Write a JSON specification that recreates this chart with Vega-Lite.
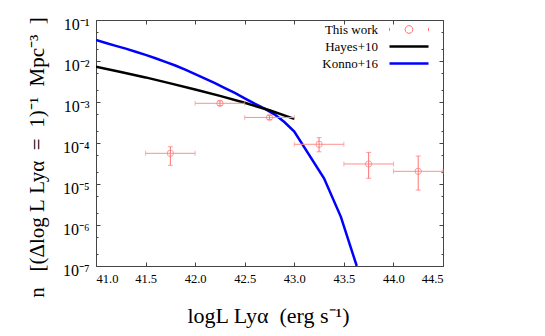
{
  "$schema": "https://vega.github.io/schema/vega-lite/v6.json",
  "width": 347,
  "height": 246,
  "autosize": "none",
  "padding": {"left": 96, "top": 20, "right": 102, "bottom": 70},
  "background": "white",
  "config": {
    "font": "Liberation Serif",
    "view": {"stroke": "#444", "strokeWidth": 1},
    "axis": {"grid": false, "labelColor": "#000", "titleColor": "#000", "tickColor": "#444", "titleFontWeight": "normal", "labelFont": "Liberation Serif", "titleFont": "Liberation Serif"}
  },
  "datasets": {
    "obs": [
      {"series": "This work", "x": 41.75, "xlo": 41.5, "xhi": 42.0, "y": 5.6e-5, "ylo": 2.86e-5, "yhi": 8.1e-5},
      {"series": "This work", "x": 42.25, "xlo": 42.0, "xhi": 42.5, "y": 9.3e-4, "ylo": 8.2e-4, "yhi": 1.06e-3},
      {"series": "This work", "x": 42.75, "xlo": 42.5, "xhi": 43.0, "y": 4.2e-4, "ylo": 3.75e-4, "yhi": 4.7e-4},
      {"series": "This work", "x": 43.25, "xlo": 43.0, "xhi": 43.5, "y": 9.3e-5, "ylo": 6.1e-5, "yhi": 1.35e-4},
      {"series": "This work", "x": 43.75, "xlo": 43.5, "xhi": 44.0, "y": 3.08e-5, "ylo": 1.38e-5, "yhi": 5.9e-5},
      {"series": "This work", "x": 44.25, "xlo": 44.0, "xhi": 44.5, "y": 2.04e-5, "ylo": 7.1e-6, "yhi": 4.8e-5}
    ],
    "hayes": [
      {"series": "Hayes+10", "x": 41.0, "y": 7.24e-3},
      {"series": "Hayes+10", "x": 41.25, "y": 5.37e-3},
      {"series": "Hayes+10", "x": 41.5, "y": 3.98e-3},
      {"series": "Hayes+10", "x": 41.75, "y": 2.85e-3},
      {"series": "Hayes+10", "x": 42.0, "y": 2.02e-3},
      {"series": "Hayes+10", "x": 42.25, "y": 1.41e-3},
      {"series": "Hayes+10", "x": 42.5, "y": 9.55e-4},
      {"series": "Hayes+10", "x": 42.75, "y": 6.31e-4},
      {"series": "Hayes+10", "x": 43.0, "y": 3.89e-4}
    ],
    "konno": [
      {"series": "Konno+16", "x": 41.0, "y": 3.24e-2},
      {"series": "Konno+16", "x": 41.1, "y": 2.75e-2},
      {"series": "Konno+16", "x": 41.2, "y": 2.34e-2},
      {"series": "Konno+16", "x": 41.3, "y": 2.0e-2},
      {"series": "Konno+16", "x": 41.4, "y": 1.68e-2},
      {"series": "Konno+16", "x": 41.5, "y": 1.41e-2},
      {"series": "Konno+16", "x": 41.6, "y": 1.17e-2},
      {"series": "Konno+16", "x": 41.7, "y": 9.55e-3},
      {"series": "Konno+16", "x": 41.8, "y": 7.76e-3},
      {"series": "Konno+16", "x": 41.9, "y": 6.17e-3},
      {"series": "Konno+16", "x": 42.0, "y": 4.79e-3},
      {"series": "Konno+16", "x": 42.1, "y": 3.72e-3},
      {"series": "Konno+16", "x": 42.2, "y": 2.88e-3},
      {"series": "Konno+16", "x": 42.3, "y": 2.19e-3},
      {"series": "Konno+16", "x": 42.4, "y": 1.66e-3},
      {"series": "Konno+16", "x": 42.5, "y": 1.23e-3},
      {"series": "Konno+16", "x": 42.6, "y": 9.12e-4},
      {"series": "Konno+16", "x": 42.7, "y": 6.92e-4},
      {"series": "Konno+16", "x": 42.8, "y": 5.01e-4},
      {"series": "Konno+16", "x": 42.9, "y": 3.24e-4},
      {"series": "Konno+16", "x": 43.0, "y": 1.91e-4},
      {"series": "Konno+16", "x": 43.3, "y": 1.38e-5},
      {"series": "Konno+16", "x": 43.47, "y": 1.58e-6},
      {"series": "Konno+16", "x": 43.63, "y": 1.0e-7}
    ]
  },
  "layer": [
    {
      "data": {"name": "konno"},
      "mark": {"type": "line", "strokeWidth": 2.5, "clip": true},
      "encoding": {
        "x": {"field": "x", "type": "quantitative",
          "scale": {"domain": [41, 44.5], "nice": false, "zero": false},
          "axis": {"orient": "bottom", "values": [41, 41.5, 42, 42.5, 43, 43.5, 44, 44.5], "format": ".1f", "ticks": false, "domain": false, "labelPadding": 6, "labelFontSize": 12.5, "labelFont": "Liberation Serif",
            "title": "logL Lyα\u00a0\u00a0(erg s⁻¹)", "titleFont": "Liberation Serif", "titleFontSize": 22, "titleBaseline": "alphabetic", "titleY": 56, "titleX": 172}},
        "y": {"field": "y", "type": "quantitative",
          "scale": {"type": "log", "domain": [1e-7, 0.1], "nice": false},
          "axis": {"orient": "left", "values": [1e-7, 1e-6, 1e-5, 1e-4, 1e-3, 1e-2, 1e-1], "ticks": false, "domain": false, "labelPadding": 7, "labelFontSize": 16, "labelOffset": 4, "labelFont": "Liberation Serif",
            "labelExpr": "datum.value > 0.05 ? '10⁻¹' : datum.value > 0.005 ? '10⁻²' : datum.value > 0.0005 ? '10⁻³' : datum.value > 0.00005 ? '10⁻⁴' : datum.value > 0.000005 ? '10⁻⁵' : datum.value > 0.0000005 ? '10⁻⁶' : '10⁻⁷'",
            "title": "n\u00a0\u00a0\u00a0[(Δlog\u00a0L\u00a0Lyα\u00a0\u00a0=\u00a0\u00a01)⁻¹\u00a0\u00a0Mpc⁻³\u00a0\u00a0]", "titleFont": "Liberation Serif", "titleFontSize": 21, "titleBaseline": "alphabetic", "titleX": -53, "titleY": 137}},
        "color": {"field": "series", "type": "nominal",
          "scale": {"domain": ["This work", "Hayes+10", "Konno+16"], "range": ["#ff7373", "#000000", "#0000ff"]},
          "legend": {
            "orient": "none", "legendX": 200, "legendY": 3, "title": null, "padding": 0,
            "labelFontSize": 13, "labelFont": "Liberation Serif", "labelColor": "#000", "symbolSize": 100, "rowPadding": 3, "labelLimit": 0,
            "encode": {
              "symbols": {"update": {
                "x": {"value": 113},
                "shape": {"signal": "datum.value === 'This work' ? 'M-1,-0.08V0.08M1,-0.08V0.08M0.2,0L0.173,0.1L0.1,0.173L0,0.2L-0.1,0.173L-0.173,0.1L-0.2,0L-0.173,-0.1L-0.1,-0.173L0,-0.2L0.1,-0.173L0.173,-0.1Z' : 'M-1,0H1'"},
                "size": {"value": 1521},
                "strokeWidth": {"signal": "datum.value === 'This work' ? 1 : 2.5"},
                "stroke": {"signal": "datum.value === 'This work' ? '#ff7373' : datum.value === 'Hayes+10' ? '#000000' : '#0000ff'"},
                "fill": {"value": "transparent"},
                "opacity": {"value": 1}
              }},
              "labels": {"update": {"x": {"value": 82}, "align": {"value": "right"}}}
            }
          }}
      }
    },
    {
      "data": {"name": "hayes"},
      "mark": {"type": "line", "strokeWidth": 2.5, "clip": true},
      "encoding": {
        "x": {"field": "x", "type": "quantitative",
          "axis": {"orient": "bottom", "values": [41, 41.5, 42, 42.5, 43, 43.5, 44, 44.5], "labels": false, "domain": false, "tickSize": -4, "title": null}},
        "y": {"field": "y", "type": "quantitative",
          "axis": {"orient": "left", "values": [1e-7, 1e-6, 1e-5, 1e-4, 1e-3, 1e-2, 1e-1], "labels": false, "domain": false, "tickSize": -4, "title": null}},
        "color": {"field": "series", "type": "nominal"}
      }
    },
    {
      "data": {"name": "obs"},
      "mark": {"type": "rule", "strokeWidth": 1, "color": "#ff8f8f"},
      "encoding": {
        "x": {"field": "xlo", "type": "quantitative",
          "axis": {"orient": "top", "values": [41, 41.5, 42, 42.5, 43, 43.5, 44, 44.5], "labels": false, "domain": false, "tickSize": -4, "title": null}},
        "x2": {"field": "xhi"},
        "y": {"field": "y", "type": "quantitative",
          "axis": {"orient": "right", "values": [1e-7, 1e-6, 1e-5, 1e-4, 1e-3, 1e-2, 1e-1], "labels": false, "domain": false, "tickSize": -4, "title": null}}
      }
    },
    {
      "data": {"name": "obs"},
      "mark": {"type": "rule", "strokeWidth": 1, "color": "#ff7373"},
      "encoding": {
        "x": {"field": "x", "type": "quantitative", "axis": null},
        "y": {"field": "ylo", "type": "quantitative",
          "axis": {"orient": "left", "values": [2e-7, 5e-7, 2e-6, 5e-6, 2e-5, 5e-5, 2e-4, 5e-4, 2e-3, 5e-3, 2e-2, 5e-2], "labels": false, "domain": false, "tickSize": -2, "title": null}},
        "y2": {"field": "yhi"}
      }
    },
    {
      "data": {"name": "obs"},
      "transform": [{"fold": ["xlo", "xhi"], "as": ["k", "xc"]}],
      "mark": {"type": "tick", "orient": "vertical", "size": 5, "thickness": 1, "color": "#ff8f8f"},
      "encoding": {
        "x": {"field": "xc", "type": "quantitative", "axis": null},
        "y": {"field": "y", "type": "quantitative",
          "axis": {"orient": "right", "values": [2e-7, 5e-7, 2e-6, 5e-6, 2e-5, 5e-5, 2e-4, 5e-4, 2e-3, 5e-3, 2e-2, 5e-2], "labels": false, "domain": false, "tickSize": -2, "title": null}}
      }
    },
    {
      "data": {"name": "obs"},
      "transform": [{"fold": ["ylo", "yhi"], "as": ["k", "yc"]}],
      "mark": {"type": "tick", "orient": "horizontal", "size": 5, "thickness": 1, "color": "#ff7373"},
      "encoding": {
        "x": {"field": "x", "type": "quantitative", "axis": null},
        "y": {"field": "yc", "type": "quantitative", "axis": null}
      }
    },
    {
      "data": {"name": "obs"},
      "mark": {"type": "point", "shape": "circle", "filled": false, "size": 40, "strokeWidth": 1},
      "encoding": {
        "x": {"field": "x", "type": "quantitative", "axis": null},
        "y": {"field": "y", "type": "quantitative", "axis": null},
        "color": {"field": "series", "type": "nominal"}
      }
    }
  ],
  "resolve": {"axis": {"x": "independent", "y": "independent"}}
}
